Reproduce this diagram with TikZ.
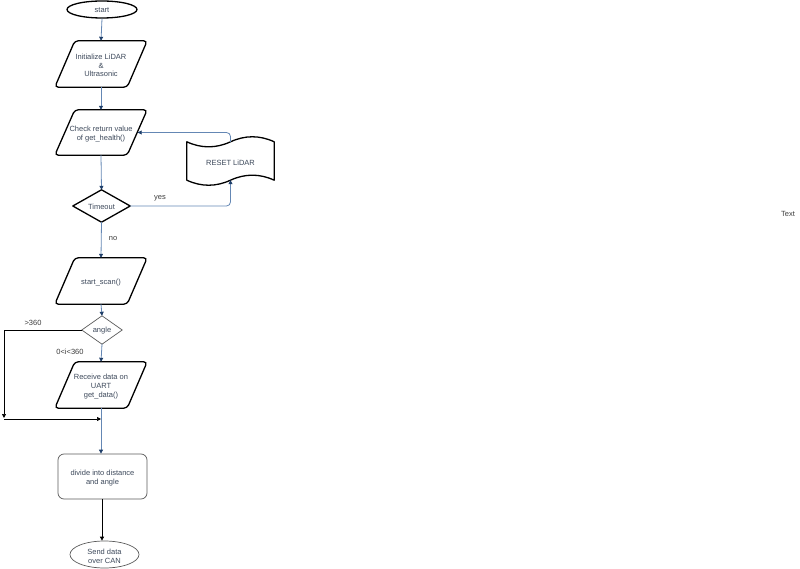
\documentclass[tikz,border=0pt]{standalone}
\usepackage{fontspec}
\setmainfont{Liberation Sans}
\usetikzlibrary{arrows.meta,calc,shapes.geometric}
\definecolor{edgeblue}{RGB}{100,135,180}
\definecolor{tipblue}{RGB}{30,62,105}
\definecolor{boxtext}{RGB}{60,72,90}
\definecolor{greytext}{RGB}{60,60,60}
\definecolor{thinline}{RGB}{90,90,90}
\tikzset{
  every node/.style={font=\fontsize{7.5}{8.7}\selectfont, text=boxtext, align=center, inner sep=0pt},
  boxframe/.style={draw=none, rectangle},
  thickline/.style={draw=black, line width=1.3pt, rounded corners=3.5pt},
  lightframe/.style={draw=thinline, line width=0.7pt},
  blueflow/.style={draw=edgeblue, line width=0.8pt, -{Triangle[length=4pt,width=4pt,color=tipblue,fill=tipblue]}},
  blackflow/.style={draw=black, line width=0.7pt, -{Triangle[length=4pt,width=4pt,color=black,fill=black]}},
  edgelabel/.style={text=greytext},
  labeltext/.style={}
}
\begin{document}
\begin{tikzpicture}[x=1pt,y=-1pt]
\useasboundingbox (0,0) rectangle (800,569);

% start
\node[draw=black, line width=1.3pt, ellipse, minimum width=70pt, minimum height=17pt] (start) at (102,9.5) {};
\node (startT) at ($(start)+(0,1)$) {start};

% parallelogram helper nodes
\node[boxframe, minimum width=92pt, minimum height=46pt] (init) at (101,64) {};
\node[boxframe, minimum width=92pt, minimum height=45pt] (chk) at (101,132.5) {};
\node[boxframe, minimum width=92pt, minimum height=46pt] (scan) at (101,281) {};
\node[boxframe, minimum width=92pt, minimum height=46pt] (recv) at (101,385) {};

\foreach \n in {init,chk,scan,recv}{
  \draw[thickline] ($(\n.north west)+(20,0)$) -- (\n.north east) -- ($(\n.south east)-(20,0)$) -- (\n.south west) -- cycle;
}
\node (initT) at ($(init)+(0,1.5)$) {Initialize LiDAR\\\&\\Ultrasonic};
\node (chkT) at ($(chk)+(0,1.5)$) {Check return value\\of get\_health()};
\node (scanT) at ($(scan)+(0,1.5)$) {start\_scan()};
\node (recvT) at ($(recv)+(0,1.5)$) {Receive data on\\UART\\get\_data()};

% Timeout diamond
\node[boxframe, minimum width=57pt, minimum height=32pt] (timeout) at (101.5,206) {};
\draw[draw=black, line width=1.3pt, line join=round] (timeout.north) -- (timeout.east) -- (timeout.south) -- (timeout.west) -- cycle;
\node (timeoutT) at ($(timeout)+(0,1)$) {Timeout};

% RESET LiDAR tape
\node[boxframe, minimum width=87pt, minimum height=38pt] (reset) at (230.5,161) {};
\draw[draw=black, line width=1.3pt, line join=round]
  (reset.north west) .. controls ++(14.5,6.7) and ++(-14.5,6.7) .. (reset.north)
  .. controls ++(14.5,-6.7) and ++(-14.5,-6.7) .. (reset.north east)
  -- (reset.south east) .. controls ++(-14.5,-6.7) and ++(14.5,-6.7) .. (reset.south)
  .. controls ++(-14.5,6.7) and ++(14.5,6.7) .. (reset.south west) -- cycle;
\node (resetT) at ($(reset)+(0,1.5)$) {RESET LiDAR};

% angle diamond
\node[boxframe, minimum width=40pt, minimum height=28pt] (angle) at (102,330) {};
\draw[lightframe] (angle.north) -- (angle.east) -- (angle.south) -- (angle.west) -- cycle;
\node (angleT) at ($(angle)+(0,1)$) {angle};

% divide box
\node[draw=thinline, line width=0.7pt, rounded corners=6pt, minimum width=89pt, minimum height=45pt] (divide) at (102.5,476.5) {};
\node (divideT) at ($(divide)+(0,1.5)$) {divide into distance\\and angle};

% send data
\node[draw=thinline, line width=0.7pt, ellipse, minimum width=69pt, minimum height=27pt] (send) at (104.5,554.5) {};
\node (sendT) at ($(send)+(0,1.5)$) {Send data\\over CAN};

% Text
\node[text=greytext] (txt) at (788,214) {Text};

% coordinates
\coordinate (chkR) at ($(chk.east)+(-9.5,0)$);
\coordinate (leftc) at (4,419);
\coordinate (merge) at (101,419);

% connectors
\draw[blueflow] (start.south) -- (init.north);
\draw[blueflow] (init.south) -- (chk.north);
\draw[blueflow] (chk.south) -- (timeout.north);
\draw[blueflow, rounded corners=4pt] (timeout.east) -- (reset.south |- timeout.east) -- (reset.south);
\draw[blueflow, rounded corners=4pt] (reset.north) -- (reset.north |- chkR) -- (chkR);
\draw[blueflow] (timeout.south) -- (scan.north);
\draw[blueflow] (scan.south) -- (angle.north);
\draw[blueflow] (angle.south) -- (recv.north);
\draw[blackflow] (angle.west) -- (leftc |- angle.west) -- ($(leftc)+(0,-1)$);
\draw[blackflow] (leftc) -- (merge);
\draw[blueflow] (recv.south) -- (divide.north -| recv.south);
\draw[blackflow] ($(divide.south)+(-0.5,0)$) -- ($(divide.south |- send.north)+(-0.5,0)$);

% labels
\node[edgelabel] (lyes) at (160,198.5) {yes};
\node[edgelabel] (lno) at (113,239) {no};
\node[edgelabel] (lgt) at (33,323) {>360};
\node[edgelabel] (lrange) at (70,352) {0<i<360};
\end{tikzpicture}
\end{document}
